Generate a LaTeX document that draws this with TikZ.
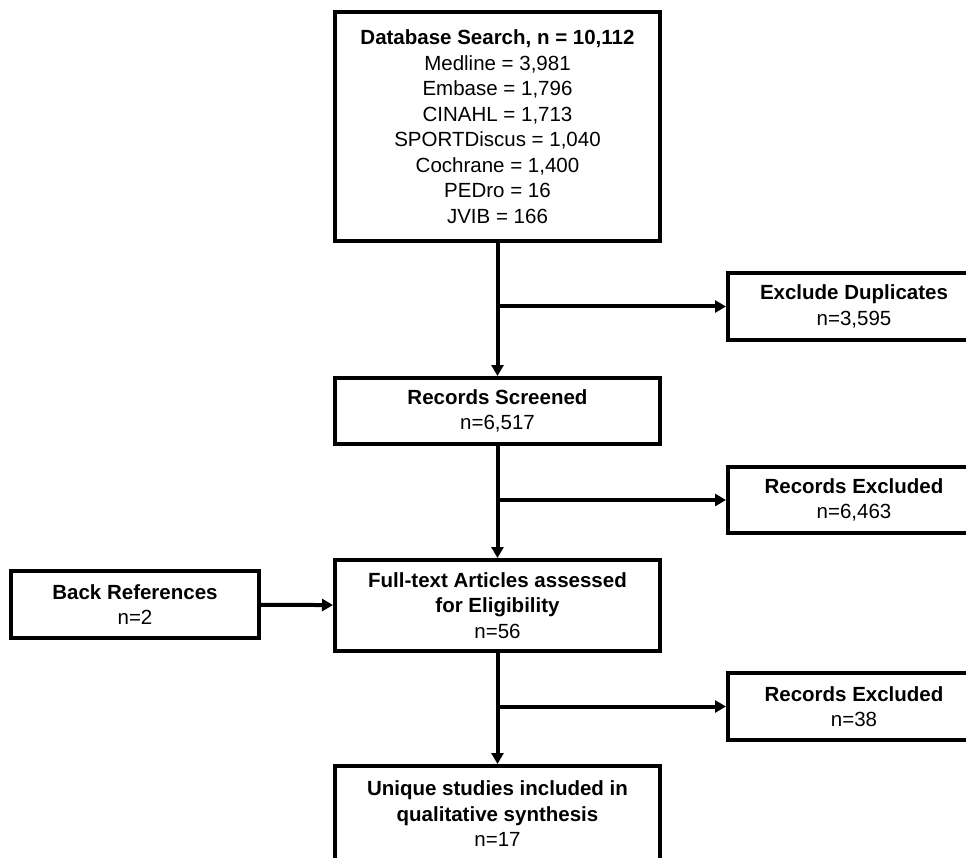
\documentclass[tikz,border=0pt]{standalone}
\usepackage{fontspec}
\setmainfont{Liberation Sans}
\usepackage{tikz}
\usetikzlibrary{arrows.meta, calc}

\tikzset{
  box/.style={draw, line width=4pt, align=center, inner sep=0pt,
    font=\fontsize{20.5}{25.5}\selectfont},
  arr/.style={line width=4pt, -{Triangle[length=11pt, width=12pt]}},
}

\begin{document}
\begin{tikzpicture}[x=1pt, y=-1pt]
                    \clip (0, 0) rectangle (966, 858);
                    \node[box, minimum width=325pt, minimum height=229pt] (search) at (497.5, 126.5)
                        {\textbf{Database Search, n = 10,112}\\ Medline = 3,981\\ Embase = 1,796\\ CINAHL = 1,713\\
                         SPORTDiscus = 1,040\\ Cochrane = 1,400\\ PEDro = 16\\ JVIB = 166};
                    \node[box, minimum width=325pt, minimum height=66pt] (screened) at (497.5, 411) {\textbf{Records Screened}\\ n=6,517};
                    \node[box, minimum width=325pt, minimum height=91pt] (fulltext) at (497.5, 605.5)
                        {\textbf{Full-text Articles assessed}\\ \textbf{for Eligibility}\\ n=56};
                    \node[box, minimum width=325pt, minimum height=96pt] (unique) at (497.5, 814)
                        {\textbf{Unique studies included in}\\ \textbf{qualitative synthesis}\\ n=17};
                    \node[box, minimum width=252pt, minimum height=67pt] (dup) at (854, 306.5) {\textbf{Exclude Duplicates}\\ n=3,595};
                    \node[box, minimum width=252pt, minimum height=66pt] (excla) at (854, 500) {\textbf{Records Excluded}\\ n=6,463};
                    \node[box, minimum width=252pt, minimum height=67pt] (exclb) at (854, 706.5) {\textbf{Records Excluded}\\ n=38};
                    \node[box, minimum width=248pt, minimum height=67pt] (backref) at (135, 604.5) {\textbf{Back References}\\ n=2};
                    \draw[arr] (search) -- (screened);
                    \draw[arr] (search.south |- dup.west) -- (dup.west);
                    \draw[arr] (screened) -- (fulltext);
                    \draw[arr] (screened.south |- excla.west) -- (excla.west);
                    \draw[arr] (fulltext) -- (unique);
                    \draw[arr] (fulltext.south |- exclb.west) -- (exclb.west);
                    \draw[arr] (backref) -- (fulltext);
                \end{tikzpicture}
\end{document}
